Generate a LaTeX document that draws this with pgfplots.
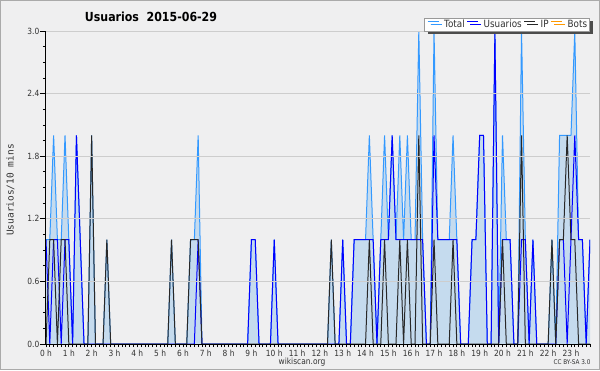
\documentclass[border=0pt]{standalone}
\usepackage{fontspec}
\setmainfont{DejaVu Sans}[FakeStretch=0.88]
\newfontfamily\monofont{DejaVu Sans Mono}
\usepackage{pgfplots}
\pgfplotsset{compat=1.18}
\usepackage{pgfplotstable}
\usetikzlibrary{shadows}
\definecolor{bg}{RGB}{239,239,240}
\definecolor{framec}{RGB}{170,170,170}
\definecolor{totalc}{RGB}{51,153,255}
\definecolor{userc}{RGB}{0,0,255}
\definecolor{ipc}{RGB}{40,40,40}
\definecolor{botc}{RGB}{255,153,0}
\definecolor{fillc}{RGB}{157,200,237}
\definecolor{gridc}{RGB}{205,205,205}
\definecolor{txt}{RGB}{50,50,50}
\pgfplotstableread{
i T U IP B
0 1 1 0 0
1 1 0 1 0
2 2 1 1 0
3 1 1 0 0
4 1 0 1 0
5 2 1 1 0
6 1 1 0 0
7 0 0 0 0
8 2 2 0 0
9 1 1 0 0
10 0 0 0 0
11 0 0 0 0
12 2 0 2 0
13 0 0 0 0
14 0 0 0 0
15 0 0 0 0
16 1 0 1 0
17 0 0 0 0
18 0 0 0 0
19 0 0 0 0
20 0 0 0 0
21 0 0 0 0
22 0 0 0 0
23 0 0 0 0
24 0 0 0 0
25 0 0 0 0
26 0 0 0 0
27 0 0 0 0
28 0 0 0 0
29 0 0 0 0
30 0 0 0 0
31 0 0 0 0
32 0 0 0 0
33 1 0 1 0
34 0 0 0 0
35 0 0 0 0
36 0 0 0 0
37 0 0 0 0
38 1 0 1 0
39 1 0 1 0
40 2 1 1 0
41 0 0 0 0
42 0 0 0 0
43 0 0 0 0
44 0 0 0 0
45 0 0 0 0
46 0 0 0 0
47 0 0 0 0
48 0 0 0 0
49 0 0 0 0
50 0 0 0 0
51 0 0 0 0
52 0 0 0 0
53 0 0 0 0
54 1 1 0 0
55 1 1 0 0
56 0 0 0 0
57 0 0 0 0
58 0 0 0 0
59 0 0 0 0
60 1 1 0 0
61 0 0 0 0
62 0 0 0 0
63 0 0 0 0
64 0 0 0 0
65 0 0 0 0
66 0 0 0 0
67 0 0 0 0
68 0 0 0 0
69 0 0 0 0
70 0 0 0 0
71 0 0 0 0
72 0 0 0 0
73 0 0 0 0
74 0 0 0 0
75 1 0 1 0
76 0 0 0 0
77 0 0 0 0
78 1 1 0 0
79 0 0 0 0
80 0 0 0 0
81 1 1 0 0
82 1 1 0 0
83 1 1 0 0
84 1 1 0 0
85 2 1 1 0
86 1 1 0 0
87 0 0 0 0
88 1 1 0 0
89 2 1 1 0
90 1 1 0 0
91 2 2 0 0
92 1 1 0 0
93 2 1 1 0
94 1 1 0 0
95 2 1 1 0
96 1 1 0 0
97 1 1 0 0
98 3 1 2 0
99 1 1 0 0
100 0 0 0 0
101 0 0 0 0
102 3 2 1 0
103 1 1 0 0
104 1 1 0 0
105 1 1 0 0
106 1 1 0 0
107 2 1 1 0
108 1 1 0 0
109 0 0 0 0
110 0 0 0 0
111 0 0 0 0
112 1 1 0 0
113 1 1 0 0
114 2 2 0 0
115 2 2 0 0
116 0 0 0 0
117 0 0 0 0
118 3 3 0 0
119 0 0 0 0
120 2 1 1 0
121 1 1 0 0
122 1 1 0 0
123 0 0 0 0
124 0 0 0 0
125 3 1 2 0
126 1 1 0 0
127 0 0 0 0
128 1 1 0 0
129 0 0 0 0
130 0 0 0 0
131 0 0 0 0
132 0 0 0 0
133 1 0 1 0
134 0 0 0 0
135 2 1 1 0
136 2 1 1 0
137 2 0 2 0
138 2 1 1 0
139 3 2 1 0
140 1 1 0 0
141 1 1 0 0
142 0 0 0 0
143 1 1 0 0
}\data
\begin{document}
\begin{tikzpicture}[x=1pt,y=1pt]
\fill[bg] (0,0) rectangle (600,370);
\draw[framec, line width=1pt] (0.5,0.5) rectangle (599.5,369.5);
\useasboundingbox (0,0) rectangle (600,370);
\begin{axis}[
  axis on top,
  at={(46pt,26pt)}, anchor=south west,
  scale only axis, width=544pt, height=313pt,
  xmin=0, xmax=143, ymin=0, ymax=3,
  axis lines=left, axis line style={-, black, line width=1pt},
  tick align=outside,
  xtick={0,6,...,138},
  xticklabels={0 h,1 h,2 h,3 h,4 h,5 h,6 h,7 h,8 h,9 h,10 h,11 h,12 h,13 h,14 h,15 h,16 h,17 h,18 h,19 h,20 h,21 h,22 h,23 h},
  minor xtick={0,1,...,143},
  ytick={0,0.6,1.2,1.8,2.4,3},
  yticklabels={0.0,0.6,1.2,1.8,2.4,3.0},
  minor ytick={0.15,0.3,0.45,0.75,0.9,1.05,1.35,1.5,1.65,1.95,2.1,2.25,2.55,2.7,2.85},
  major tick length=6pt, minor tick length=3pt,
  xtick style={/pgfplots/major tick length=3pt},
  tick style={black, line width=0.8pt},
  ymajorgrids, grid style={gridc, line width=0.8pt},
  ticklabel style={font=\fontsize{8.5}{9}\selectfont, text=txt},
  yticklabel style={inner sep=0.5pt},
  xticklabel style={inner sep=0.3pt},
  legend columns=4,
  legend image code/.code={\draw[#1] (0pt,3.2pt) -- (11pt,3.2pt); \path (-1pt,3.2pt) (15pt,3.2pt);},
  legend style={at={(1,1)}, anchor=north east, yshift=13pt,
    draw=gray!80, fill=white, line width=0.8pt,
    drop shadow={shadow xshift=3pt, shadow yshift=-3pt, fill=gray!60!black, opacity=1},
    font=\fontsize{10}{11}\selectfont, text=txt,
    inner xsep=1.5pt, inner ysep=0.5pt,
    nodes={inner xsep=1pt, inner ysep=1.5pt},
    /tikz/every odd column/.append style={column sep=0pt},
    /tikz/every even column/.append style={column sep=0pt}},
]
\addplot[botc, line width=0.8pt, forget plot] table[x=i, y=B]{\data};
\addplot[draw=none, fill=fillc, fill opacity=0.5, forget plot] table[x=i, y=T]{\data} \closedcycle;
\addplot[totalc, line width=1pt, forget plot] table[x=i, y=T]{\data};
\addplot[userc, line width=1pt, forget plot] table[x=i, y=U]{\data};
\addplot[ipc, line width=1pt, forget plot] table[x=i, y=IP]{\data};
\addlegendimage{totalc, line width=1pt}\addlegendentry{Total}
\addlegendimage{userc, line width=1pt}\addlegendentry{Usuarios}
\addlegendimage{ipc, line width=1pt}\addlegendentry{IP}
\addlegendimage{botc, line width=1pt}\addlegendentry{Bots}
\end{axis}
\node[font=\bfseries\fontsize{12.5}{14}\selectfont, text=black] at (151,353.5) {Usuarios\ \ 2015-06-29};
\node[rotate=90, font=\monofont\fontsize{9.5}{10}\selectfont, text=txt] at (10.5,180) {Usuarios/10 mins};
\node[font=\fontsize{8.5}{9}\selectfont, text=txt, inner sep=0.5pt] at (302,7.5) {wikiscan.org};
\node[font=\fontsize{6.5}{7}\selectfont, text=txt] at (572,7.5) {CC BY-SA 3.0};
\end{tikzpicture}
\end{document}
